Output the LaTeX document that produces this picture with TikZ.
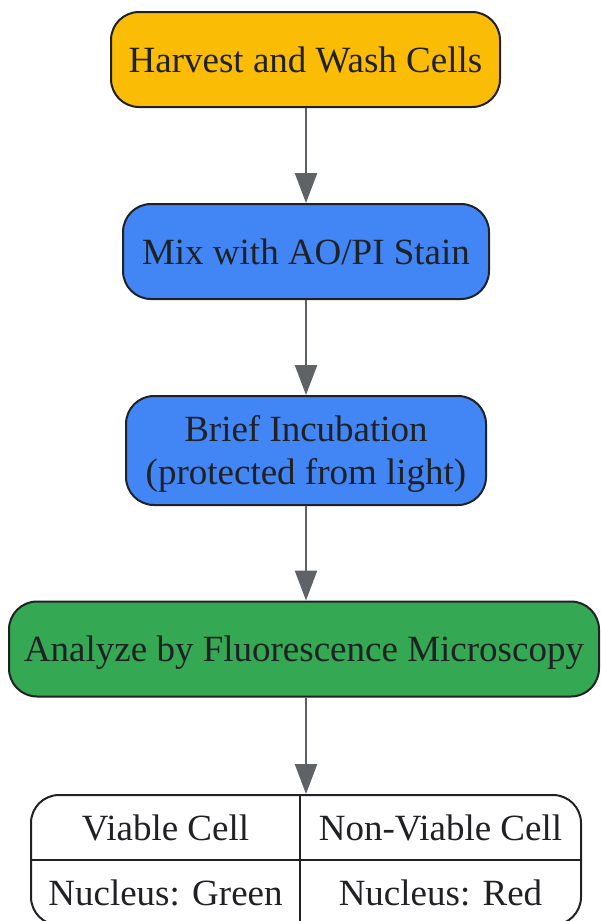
\documentclass[tikz,border=0pt]{standalone}
\usepackage{fontspec}
\setmainfont{Liberation Serif}
\usetikzlibrary{arrows.meta,positioning,calc}

\definecolor{harvestyellow}{HTML}{FBBC05}
\definecolor{stainblue}{HTML}{4285F4}
\definecolor{scopegreen}{HTML}{34A853}
\definecolor{inkdark}{HTML}{202124}
\definecolor{flowgrey}{HTML}{5F6368}

\tikzset{
  stepbox/.style={draw=inkdark, line width=2pt, rounded corners=28pt,
    minimum height=95pt, inner sep=0pt, align=center, text=inkdark,
    font=\fontsize{37}{43}\selectfont, text height=33pt, text depth=8pt},
  celltext/.style={text=inkdark, inner sep=0pt,
    font=\fontsize{37}{43}\selectfont, text height=33pt, text depth=8pt},
  flow/.style={draw=flowgrey, line width=2.5pt,
    -{Triangle[length=30pt,width=22pt]}}
}

\begin{document}
\begin{tikzpicture}[x=1pt,y=1pt]
% page frame 600 x 921
\useasboundingbox (0,0) rectangle (600,-921);

% steps
\node[stepbox, fill=harvestyellow, minimum width=389pt] (harvest)
  at (305.5,-59.5) {Harvest and Wash Cells};
\node[stepbox, fill=stainblue, minimum width=366pt] (stain)
  at (306,-251.5) {Mix with AO/PI Stain};
\node[stepbox, fill=stainblue, minimum width=360pt, minimum height=109pt,
  text height=76pt] (incubate)
  at (306,-450.5) {Brief Incubation\\(protected from light)};
\node[stepbox, fill=scopegreen, minimum width=590pt] (analyze)
  at (304,-649) {Analyze by Fluorescence Microscopy};

% result table
\node[draw=inkdark, line width=2pt, fill=white, rounded corners=28pt,
  minimum width=550pt, minimum height=130pt, inner sep=0pt] (result)
  at (306,-860) {};
\draw[inkdark, line width=2pt] (result.west) -- (result.east);
\draw[inkdark, line width=2pt] (300,-795) -- (300,-925);

\node[celltext] (viable)    at (165.5,-827.5) {Viable Cell};
\node[celltext] (nonviable) at (440.5,-827.5) {Non-Viable Cell};
\node[celltext] (green)     at (165.5,-892.5) {Nucleus: Green};
\node[celltext] (red)       at (440.5,-892.5) {Nucleus: Red};

% arrows
\draw[flow] (harvest.south -| stain.north) -- (stain.north);
\draw[flow] (stain.south) -- (incubate.north);
\draw[flow] (incubate.south) -- (incubate.south |- analyze.north);
\draw[flow] (incubate.south |- analyze.south) -- (incubate.south |- result.north);
\end{tikzpicture}
\end{document}
